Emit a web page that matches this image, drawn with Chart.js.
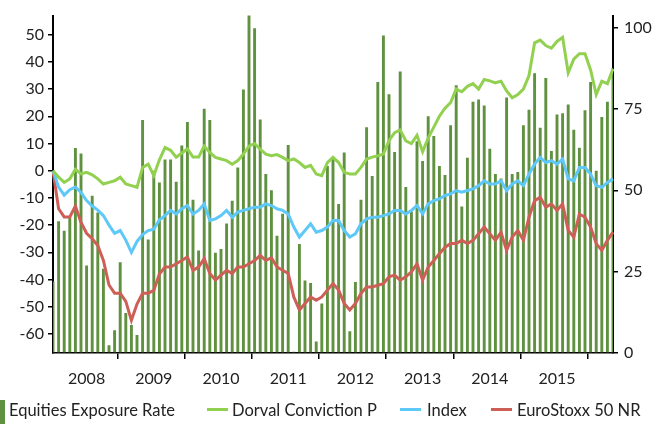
<!DOCTYPE html>
<html>
<head>
<meta charset="utf-8">
<script src="https://cdn.jsdelivr.net/npm/chart.js@4"></script>
<style>
  html, body { margin: 0; padding: 0; background: #fff; }
  #wrap { position: relative; width: 664px; height: 426px; overflow: hidden; font-family: Lato, "DejaVu Sans", sans-serif; }
  .lg { position: absolute; top: 400px; font-size: 16.5px; line-height: 20px; color: #222; white-space: nowrap; }
  .sw { position: absolute; }
</style>
</head>
<body>
<div id="wrap">
  <canvas id="c" width="664" height="426"></canvas>
  <div class="sw" style="left:0;top:400px;width:5px;height:24px;background:#609140"></div>
  <div class="lg" style="left:9px">Equities Exposure Rate</div>
  <div class="sw" style="left:207px;top:408px;width:21px;height:3px;background:#92d050"></div>
  <div class="lg" style="left:232px">Dorval Conviction P</div>
  <div class="sw" style="left:400px;top:408px;width:21px;height:3px;background:#5ec8f8"></div>
  <div class="lg" style="left:427px">Index</div>
  <div class="sw" style="left:491px;top:408px;width:21px;height:3px;background:#cd5f57"></div>
  <div class="lg" style="left:517px">EuroStoxx 50 NR</div>
</div>
<script>
// monthly, Jan 2008 .. May 2016
var years = ["2008", "2009", "2010", "2011", "2012", "2013", "2014", "2015", "2016"];
var monthNames = ["01", "02", "03", "04", "05", "06", "07", "08", "09", "10", "11", "12"];
var leftTicks = [-60, -50, -40, -30, -20, -10, 0, 10, 20, 30, 40, 50];
var rightTicks = [0, 25, 50, 75, 100];

// equities exposure rate (%), right axis
var exposure = [22, 40.5, 37.6, 41.7, 63, 61.3, 26.9, 48.3, 43.2, 25.9,
  2.4, 7, 27.9, 12.3, 8.6, 5.5, 71.6, 34.9, 56, 52.4,
  59.5, 59.5, 52.6, 63.8, 71, 47.1, 31.5, 75.1, 71.6, 30.8,
  32, 39.8, 46.8, 57, 81, 104, 99.8, 71.8, 55, 50,
  36, 42.8, 63.9, 0.4, 33.5, 22.3, 21.5, 3.5, 15.2, 57.5,
  60, 45.8, 61.6, 6.7, 21.8, 47.1, 69.4, 54.4, 83.3, 97.6,
  79.5, 61.8, 86.5, 51, 43.4, 65.1, 59, 72.8, 66.7, 57.5,
  54.7, 70, 82.3, 45, 60, 77.2, 77.9, 76.1, 62.8, 55,
  53.6, 78.5, 55, 55.6, 70, 74.8, 86, 69.2, 84.5, 62.1,
  73.3, 73.7, 76.4, 68.6, 63.1, 74.6, 83.3, 56, 72.5, 77.2,
  87.5];

// performance (%), left axis
var dorval = [0, -2.4, -4.3, -3, 0.5, -1.2, -0.6, -1.5, -3, -4.9,
  -4.3, -3.7, -2.4, -4.9, -5.5, -6.1, 1.2, 2.4, -1.8, 4,
  8.5, 7.5, 5, 6.5, 8, 5, 5, 9, 6.7, 4.9,
  4.3, 3.7, 2.4, 3.7, 6.1, 9, 10, 7.9, 6.1, 5.5,
  5.9, 4.9, 3.7, 4.3, 3, 1.2, 2, -1.2, -1.8, 3,
  4.9, 3, -0.6, -1.2, -1.2, 1.2, 4.3, 5, 5.5, 6.1,
  11, 14, 15, 11, 10, 13, 7, 12, 16, 20,
  23, 25, 30, 29, 31, 32, 30, 33.5, 33, 32.3,
  32.9, 29.3, 26.8, 28, 30, 35, 47, 48, 46, 45,
  47.5, 49, 36, 41, 43, 43, 37, 28, 32.9, 32,
  37.5];
var index = [0, -6, -9, -7, -6, -8, -11, -13, -14.5, -16.5,
  -20, -23, -22, -25.5, -30, -26, -23.5, -22, -21.5, -18,
  -16.5, -14.6, -15.9, -14, -12.8, -15.9, -14.6, -12.2, -18.3, -17.7,
  -16.5, -14.6, -17.1, -15.2, -14.6, -14, -13.4, -13.4, -12.2, -12.8,
  -14, -14.6, -15.9, -20.7, -24.4, -22, -19.5, -22.6, -22, -20.7,
  -18.3, -18.3, -22, -24.4, -23.2, -19.5, -17.7, -17.1, -17.1, -16.5,
  -15.9, -14.6, -14.6, -15.9, -14.6, -12.8, -15.9, -12.2, -11, -10.4,
  -9.1, -8.5, -7.3, -7.9, -7.3, -6.7, -5.5, -3.7, -4.9, -4.9,
  -3.7, -7.3, -4.9, -3.7, -5.5, -1.2, 2.4, 4.9, 3, 3.7,
  2.4, 4.3, -3, -3.7, 1.2, 1.2, -1.2, -5.5, -6.1, -4.3,
  -3];
var eurostoxx = [0, -14, -17, -17, -13, -19, -23, -25, -27.5, -33,
  -42, -45, -45, -48, -55, -49, -45, -45, -44, -38,
  -35.4, -35.4, -34.2, -33, -31.7, -36.6, -35.4, -32.3, -37.8, -40.2,
  -38.4, -36.6, -37.8, -35.4, -35.4, -34.2, -33, -31.1, -33, -32,
  -35.4, -36.6, -37.8, -46.4, -51.2, -48.8, -46.4, -47.6, -46.4, -43.9,
  -41.5, -43.9, -48.8, -51.2, -48.8, -45.1, -42.7, -42.7, -42.1, -41.5,
  -39, -38.4, -40.2, -39, -37.2, -34.2, -40.2, -35.4, -33, -30.5,
  -28.1, -26.8, -26.8, -25.6, -26.8, -25.6, -23.2, -20.7, -23.2, -25.6,
  -22.6, -29.3, -24.4, -22, -25.6, -17.1, -11, -9.8, -13.4, -12.2,
  -14.6, -12.2, -22, -24.4, -15.9, -17.1, -20.7, -26.8, -29.3, -25.6,
  -22.6];

var labels = [];
years.forEach(function (y) {
  monthNames.forEach(function (m) {
    if (labels.length < exposure.length) labels.push(y + "-" + m);
  });
});

var font = { family: "Lato", size: 16 };
var ink = "#222";

function lineSet(label, data, color, order) {
  return {
    type: "line",
    label: label,
    data: data,
    yAxisID: "y",
    borderColor: color,
    backgroundColor: color,
    borderWidth: 3,
    pointRadius: 0,
    tension: 0,
    order: order,
  };
}

new Chart(document.getElementById("c"), {
  data: {
    labels: labels,
    datasets: [
      lineSet("EuroStoxx 50 NR", eurostoxx, "#cd5f57", 3),
      lineSet("Index", index, "#5ec8f8", 2),
      lineSet("Dorval Conviction P", dorval, "#92d050", 1),
      {
        type: "bar",
        label: "Equities Exposure Rate",
        data: exposure,
        yAxisID: "y1",
        backgroundColor: "#609140",
        barPercentage: 0.52,
        categoryPercentage: 1,
        order: 4,
      },
    ],
  },
  options: {
    responsive: false,
    animation: false,
    devicePixelRatio: 1,
    layout: { padding: { top: 14, left: 0, right: 0, bottom: 0 } },
    plugins: { legend: { display: false }, tooltip: { enabled: false } },
    scales: {
      x: {
        type: "category",
        offset: false,
        grid: {
          drawOnChartArea: false,
          tickLength: 6,
          lineWidth: 1.5,
          color: function (ctx) {
            return ctx.index % 12 === 0 ? "#000" : "rgba(0,0,0,0)";
          },
        },
        border: { display: true, color: "#000", width: 1.5 },
        ticks: {
          autoSkip: false,
          maxRotation: 0,
          minRotation: 0,
          padding: 10,
          color: ink,
          font: font,
          callback: function (v, i) {
            return i % 12 === 6 ? years[Math.floor(i / 12)] : "";
          },
        },
        afterFit: function (s) { s.height = 73; },
      },
      y: {
        position: "left",
        min: -67,
        max: 57,
        afterBuildTicks: function (s) {
          s.ticks = leftTicks.map(function (v) { return { value: v }; });
        },
        grid: { drawOnChartArea: false, tickLength: 5, color: "#000", lineWidth: 1.5 },
        border: { display: true, color: "#000", width: 2 },
        ticks: { padding: 4, color: ink, font: font },
        afterFit: function (s) { s.width = 53; },
      },
      y1: {
        position: "right",
        min: 0,
        max: 103.7,
        afterBuildTicks: function (s) {
          s.ticks = rightTicks.map(function (v) { return { value: v }; });
        },
        grid: { drawOnChartArea: false, tickLength: 5, color: "#000", lineWidth: 1.5 },
        border: { display: true, color: "#000", width: 2 },
        ticks: { padding: 6, color: ink, font: font },
        afterFit: function (s) { s.width = 51; },
      },
    },
  },
});
</script>
</body>
</html>
